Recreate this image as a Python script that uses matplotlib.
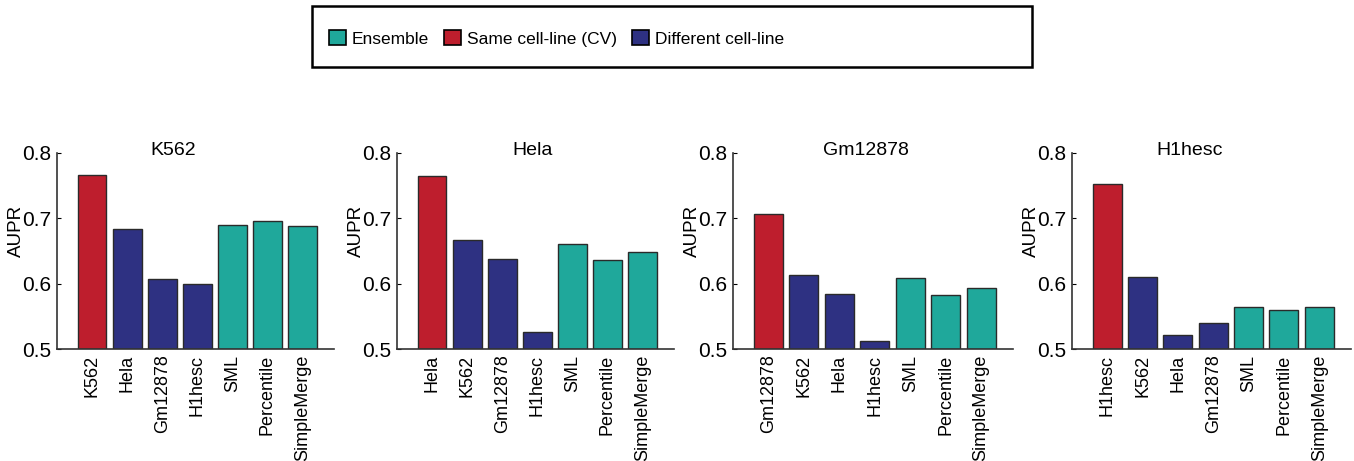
import matplotlib
matplotlib.use("Agg")
import matplotlib.pyplot as plt
from matplotlib.patches import Patch, Rectangle

plt.rcParams['font.family'] = ['Liberation Sans', 'DejaVu Sans']

# ---- data ----
panel_titles = ["K562", "Hela", "Gm12878", "H1hesc"]
labels_k562 = ["K562", "Hela", "Gm12878", "H1hesc", "SML", "Percentile", "SimpleMerge"]
labels_hela = ["Hela", "K562", "Gm12878", "H1hesc", "SML", "Percentile", "SimpleMerge"]
labels_gm = ["Gm12878", "K562", "Hela", "H1hesc", "SML", "Percentile", "SimpleMerge"]
labels_h1 = ["H1hesc", "K562", "Hela", "Gm12878", "SML", "Percentile", "SimpleMerge"]
values_k562 = [0.767, 0.684, 0.607, 0.600, 0.690, 0.696, 0.689]
values_hela = [0.765, 0.667, 0.638, 0.526, 0.660, 0.636, 0.648]
values_gm = [0.706, 0.614, 0.584, 0.513, 0.608, 0.582, 0.593]
values_h1 = [0.752, 0.610, 0.522, 0.540, 0.564, 0.559, 0.564]
groups = ["same", "diff", "diff", "diff", "ens", "ens", "ens"]
legend_names = ["Ensemble", "Same cell-line (CV)", "Different cell-line"]
yticks = [0.5, 0.6, 0.7, 0.8]

colors = {"ens": "#1fa89b", "same": "#be1e2d", "diff": "#2e3182"}

W, H = 1354, 461
fig = plt.figure(figsize=(W / 100, H / 100), dpi=100)

panels = [
    (labels_k562, values_k562, 57, 334, 0.42),
    (labels_hela, values_hela, 397, 674, 0.49),
    (labels_gm, values_gm, 733, 1013, 0.475),
    (labels_h1, values_h1, 1072, 1351, 0.42),
]
top_px, bot_px = 153, 349

for (labels, vals, x0, x1, tx), title in zip(panels, panel_titles):
    ax = fig.add_axes([x0 / W, 1 - bot_px / H, (x1 - x0) / W, (bot_px - top_px) / H])
    pos = list(range(1, len(vals) + 1))
    heights = [v - 0.5 for v in vals]
    ax.bar(pos, heights, bottom=0.5, width=0.82,
           color=[colors[g] for g in groups], edgecolor="#2a2a2a", linewidth=1.0)
    ax.set_xlim(0, 7.9)
    ax.set_ylim(0.5, 0.8)
    ax.set_yticks(yticks)
    ax.set_yticklabels([f"{t:.1f}" for t in yticks])
    ax.set_xticks(pos)
    ax.set_xticklabels(labels, rotation=90, fontsize=13)
    ax.tick_params(axis='x', length=0, pad=4)
    ax.tick_params(axis='y', direction='in', length=3, pad=4, labelsize=15)
    for s in ("top", "right"):
        ax.spines[s].set_visible(False)
    for s in ("left", "bottom"):
        ax.spines[s].set_linewidth(1.2)
        ax.spines[s].set_color("#333333")
    ax.set_ylabel("AUPR", fontsize=13.5, va="center")
    ax.yaxis.set_label_coords(-41 / (x1 - x0), 0.6)
    ax.text(tx, 1.013, title, transform=ax.transAxes, ha="center", va="center", fontsize=14)

# legend
handles = [Patch(facecolor=colors[k], edgecolor="black", linewidth=1.2) for k in ("ens", "same", "diff")]
fig.legend(handles, legend_names, loc="center left", bbox_to_anchor=(329 / W, 1 - 38.5 / H),
           ncol=3, frameon=False, prop={"size": 12.5},
           handlelength=0.98, handleheight=0.92, handletextpad=0.35, columnspacing=0.86,
           borderpad=0, borderaxespad=0)
fig.patches.append(Rectangle((312 / W, 1 - 67 / H), (1032 - 312) / W, (67 - 6) / H,
                             transform=fig.transFigure, fill=False, edgecolor="black", linewidth=1.8))

fig.savefig("out.png", dpi=100)
